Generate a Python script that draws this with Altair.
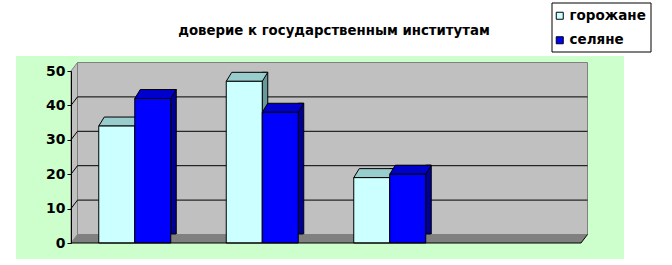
import altair as alt
import pandas as pd

# ---------------- data ----------------
TITLE = "доверие к государственным институтам"
categories = ["1", "2", "3", "4"]
series_names = ["горожане", "селяне"]
gorozhane = [34, 47, 19]
selyane = [42, 38, 20]
y_ticks = [0, 10, 20, 30, 40, 50]
grid_levels = [10, 20, 30, 40]

rows = []
for cat, g, s in zip(categories, gorozhane, selyane):
    rows.append({"cat": cat, "series": series_names[0], "value": g})
    rows.append({"cat": cat, "series": series_names[1], "value": s})
bars = pd.DataFrame(rows)
one = pd.DataFrame({"lo": [0], "hi": [50]})
grid_df = pd.DataFrame({"v": grid_levels})

# ---------------- style ----------------
W, H = 510, 172
PAD = {"left": 71, "top": 71, "right": 672 - 71 - W, "bottom": 265 - 71 - H}
WDX, WDY = 6.5, 8.5      # wall depth
BDX, BDY = 5.5, 9        # bar depth
BW = 36                  # bar width
FONT = "DejaVu Sans"
front_col = {"горожане": "#CCFFFF", "селяне": "#0000FF"}
top_col = {"горожане": "#99CCCC", "селяне": "#0000CC"}
side_col = {"горожане": "#669999", "селяне": "#000099"}
shift = {"горожане": -BW / 2, "селяне": BW / 2}

xs = alt.Scale(type="band", domain=categories, paddingInner=0, paddingOuter=0)
ys = alt.Scale(domain=[0, 50], nice=False, zero=True)
X = alt.X("cat:N", scale=xs, axis=None)

y_axis = alt.Axis(values=y_ticks, title=None, grid=False, tickSize=4,
                  tickColor="black", domainColor="black", labelColor="black",
                  labelFont=FONT, labelFontSize=14, labelFontWeight="bold",
                  labelPadding=2, zindex=1)


def Yq(field):
    return alt.Y(field, scale=ys, axis=y_axis)


legend = alt.Legend(orient="none", legendX=482, legendY=-62, title=None,
                    symbolType="square", symbolSize=49,
                    symbolStrokeColor="black", symbolStrokeWidth=1,
                    labelFont=FONT, labelFontSize=13.5, labelFontWeight="bold",
                    labelColor="black", rowPadding=9.5, labelOffset=3, padding=0)
color = alt.Color("series:N",
                  scale=alt.Scale(domain=series_names,
                                  range=[front_col[s] for s in series_names]),
                  legend=legend)

base_one = alt.Chart(one)

bg = base_one.mark_rect(fill="#CCFFCC").encode(
    x=alt.value(-55), x2=alt.value(553), y=alt.value(-15), y2=alt.value(188))
legend_box = base_one.mark_rect(fill="white", stroke="black", strokeWidth=1).encode(
    x=alt.value(481), x2=alt.value(580), y=alt.value(-68), y2=alt.value(-19))
back_wall = base_one.mark_rect(fill="#C0C0C0", stroke="#808080", strokeWidth=1,
                               yOffset=-WDY, y2Offset=-WDY).encode(
    x=alt.value(WDX), x2=alt.value(W + WDX), y=Yq("hi:Q"), y2="lo:Q")
left_wall = base_one.mark_point(
    shape=f"M0,0 L0,{-H} L{WDX},{-H - WDY} L{WDX},{-WDY} Z", size=4, filled=True,
    fill="#C0C0C0", stroke="#808080", strokeWidth=1, opacity=1).encode(
    x=alt.value(0), y=Yq("lo:Q"))
floor = base_one.mark_point(
    shape=f"M0,0 L{W},0 L{W + WDX},{-WDY} L{WDX},{-WDY} Z", size=4, filled=True,
    fill="#808080", strokeOpacity=0, opacity=1).encode(
    x=alt.value(0), y=Yq("lo:Q"))
grid_back = alt.Chart(grid_df).mark_rule(color="black", strokeWidth=1,
                                         yOffset=-WDY, y2Offset=-WDY).encode(
    x=alt.value(WDX), x2=alt.value(W + WDX), y=Yq("v:Q"), y2="v:Q")
grid_side = alt.Chart(grid_df).mark_rule(color="black", strokeWidth=1,
                                         y2Offset=-WDY).encode(
    x=alt.value(0), x2=alt.value(WDX), y=Yq("v:Q"), y2="v:Q")


def series_chart(s):
    return alt.Chart(bars).transform_filter(alt.datum.series == s)


sides = [series_chart(s).mark_bar(width=BDX, xOffset=shift[s] + BW / 2 + BDX / 2,
                                  yOffset=-BDY, fill=side_col[s], stroke="black",
                                  strokeWidth=1).encode(
    x=X, y=Yq("value:Q")) for s in series_names]

tri_path = (f"M{BW / 2},0 L{BW / 2 + BDX + 0.7},0 L{BW / 2 + BDX + 0.7},{-BDY} "
            f"L{BW / 2 + BDX},{-BDY} Z")
floor_tris = [series_chart(s).transform_calculate(base="0").mark_point(
    shape=tri_path, size=4, filled=True, fill="#808080", strokeOpacity=0,
    opacity=1, xOffset=shift[s]).encode(
    x=X, y=Yq("base:Q")) for s in series_names]

top_path = (f"M{-BW / 2},0 L{BW / 2},0 L{BW / 2 + BDX},{-BDY} "
            f"L{-BW / 2 + BDX},{-BDY} Z")
tops = [series_chart(s).mark_point(
    shape=top_path, size=4, filled=True, fill=top_col[s], stroke="black",
    strokeWidth=1, opacity=1, xOffset=shift[s]).encode(
    x=X, y=Yq("value:Q")) for s in series_names]

fronts = [series_chart(s).mark_bar(width=BW, xOffset=shift[s], stroke="black",
                                   strokeWidth=1).encode(
    x=X, y=Yq("value:Q"), color=color) for s in series_names]

x_edge = base_one.mark_rule(color="black", strokeWidth=1).encode(
    x=alt.value(0), x2=alt.value(W), y=Yq("lo:Q"))
x_slant = base_one.mark_rule(color="black", strokeWidth=1, y2Offset=-WDY).encode(
    x=alt.value(W), x2=alt.value(W + WDX), y=Yq("lo:Q"), y2="lo:Q")

title = base_one.mark_text(text=TITLE, font=FONT, fontSize=13.3, fontWeight="bold",
                           color="black", align="center",
                           baseline="alphabetic").encode(
    x=alt.value(263), y=alt.value(-36))

chart = alt.layer(
    bg, legend_box, back_wall, left_wall, floor, grid_back, grid_side,
    *sides, *floor_tris, *tops, *fronts, x_edge, x_slant, title
).properties(
    width=W, height=H,
    autosize=alt.AutoSizeParams(type="none"),
    padding=PAD,
    background="white",
).configure_view(stroke=None)

chart.save("out.html", embed_options={"renderer": "svg", "actions": False})
